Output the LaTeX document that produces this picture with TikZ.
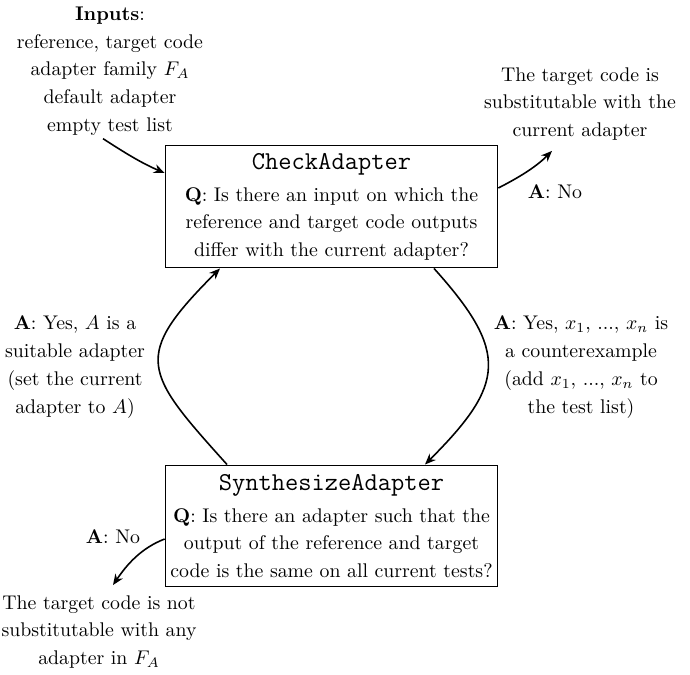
\documentclass[tikz,border=0pt]{standalone}
\usetikzlibrary{arrows.meta,calc}
\begin{document}
\begin{tikzpicture}[x=0.505pt,y=0.505pt,
  txt/.style={align=center,font=\fontsize{10}{14}\selectfont,inner sep=0pt},
  box/.style={draw,line width=0.5pt,txt,minimum width=168pt,minimum height=61.6pt},
  ttl/.style={},
  arr/.style={thick,-{Stealth[length=5.5pt,width=4.5pt]}}]
\useasboundingbox (0,0) rectangle (690,675);

\node[txt] (inputs) at (110,604) {\textbf{Inputs}:\\reference, target code\\adapter family $F_A$\\default adapter\\empty test list};

\node[box] (check) at (331.5,468) {{\fontsize{13}{14}\ttfamily CheckAdapter}\\[2pt]\textbf{Q}: Is there an input on which the\\reference and target code outputs\\differ with the current adapter?};

\node[box] (synth) at (331.5,149) {{\fontsize{13}{14}\ttfamily SynthesizeAdapter}\\[2pt]\textbf{Q}: Is there an adapter such that the\\output of the reference and target\\code is the same on all current tests?};

\node[txt] (subst) at (580,571) {The target code is\\substitutable with the\\current adapter};
\node[txt] (noA) at (555,483) {\textbf{A}: No};

\node[txt] (leftlab) at (75,308) {\textbf{A}: Yes, $A$ is a\\suitable adapter\\(set the current\\adapter to $A$)};
\node[txt] (rightlab) at (581,308) {\textbf{A}: Yes, $x_1$, ..., $x_n$ is\\a counterexample\\(add $x_1$, ..., $x_n$ to\\the test list)};

\node[txt] (noB) at (113,138) {\textbf{A}: No};
\node[txt] (fail) at (99,43) {The target code is not\\substitutable with any\\adapter in $F_A$};

\coordinate (substin) at ($(subst.south)+(-28,-10)$);
\coordinate (failin) at ($(fail.north)+(14,10)$);

\draw[arr] ($(inputs.south)+(-7,-3)$) .. controls +(-33:25) and +(157:25) .. ($(check.west)+(0,34)$);
\draw[arr] ($(check.east)+(0,19)$) .. controls +(27:25) and +(-135:22) .. (substin);
\draw[arr] ($(synth.west)+(0,-13)$) .. controls +(201:25) and +(56:25) .. (failin);

\draw[arr] ($(synth.north)+(-104.5,0)$) .. controls +(132:125) and +(-135:125) .. ($(check.south)+(-111.5,0)$);
\draw[arr] ($(check.south)+(102.5,0)$) .. controls +(-48:113) and +(45:113) .. ($(synth.north)+(93.5,0)$);
\end{tikzpicture}
\end{document}
